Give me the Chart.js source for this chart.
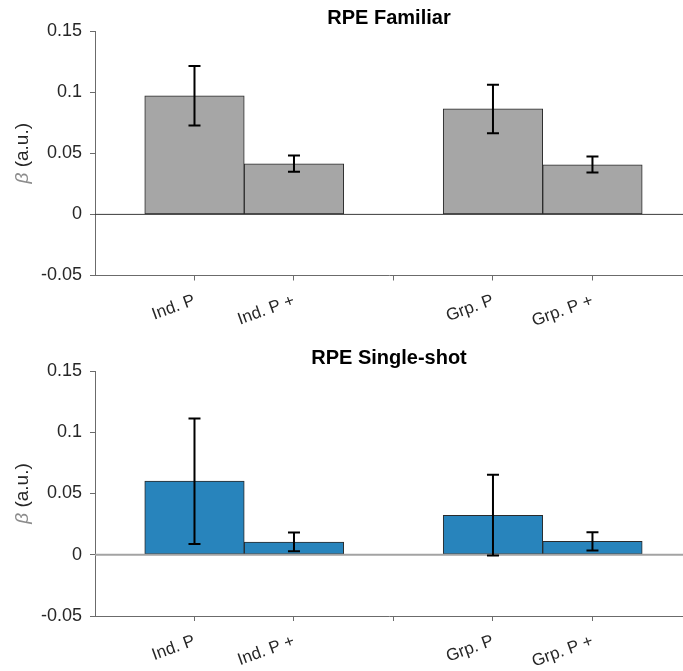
<!DOCTYPE html>
<html>
<head>
<meta charset="utf-8">
<script src="https://cdn.jsdelivr.net/npm/chart.js@4.4.1/dist/chart.umd.min.js"></script>
<style>
  body { margin: 0; background: #fff; }
  #wrap { position: relative; width: 683px; height: 671px; overflow: hidden; }
  canvas { position: absolute; left: 0; }
</style>
</head>
<body>
<div id="wrap">
  <canvas id="topChart" width="683" height="340" style="top:0px"></canvas>
  <canvas id="bottomChart" width="683" height="331" style="top:340px"></canvas>
</div>
<script>
// data
const categories = ['Ind. P', 'Ind. P +', 'Grp. P', 'Grp. P +'];
const xPositions = [1, 2, 4, 5];

const familiarBeta = [0.0969, 0.0413, 0.0863, 0.0405];
const familiarLow = [0.0726, 0.0348, 0.0664, 0.0343];
const familiarHigh = [0.1214, 0.0481, 0.1061, 0.0473];

const singleBeta = [0.0601, 0.0103, 0.0321, 0.0109];
const singleLow = [0.0087, 0.0029, -0.0006, 0.0035];
const singleHigh = [0.1113, 0.0182, 0.0653, 0.0184];

const yTicks = [-0.05, 0, 0.05, 0.1, 0.15];
const yTickLabels = ['-0.05', '0', '0.05', '0.1', '0.15'];
const xTicks = [1, 2, 3, 4, 5];
const xTickLabels = ['Ind. P', 'Ind. P +', '', 'Grp. P', 'Grp. P +'];

const FONT = '"Liberation Sans", Arial, sans-serif';
const AXIS_COLOR = '#6b6b6b';
const TEXT_COLOR = '#262626';

// zero line, error bars and y label
const extrasPlugin = {
  id: 'extras',
  afterDatasetsDraw(chart, args, opts) {
    const ctx = chart.ctx;
    const xs = chart.scales.x;
    const ys = chart.scales.y;
    const area = chart.chartArea;

    // baseline at 0
    ctx.save();
    ctx.strokeStyle = opts.zeroColor;
    ctx.lineWidth = opts.zeroWidth;
    ctx.beginPath();
    const y0 = ys.getPixelForValue(0);
    ctx.moveTo(area.left, y0);
    ctx.lineTo(area.right, y0);
    ctx.stroke();

    // error bars
    ctx.strokeStyle = '#000';
    ctx.lineWidth = 2;
    for (let i = 0; i < xPositions.length; i++) {
      const px = xs.getPixelForValue(xPositions[i]);
      const lo = ys.getPixelForValue(opts.low[i]);
      const hi = ys.getPixelForValue(opts.high[i]);
      ctx.beginPath();
      ctx.moveTo(px, lo); ctx.lineTo(px, hi);
      ctx.moveTo(px - 6, lo); ctx.lineTo(px + 6, lo);
      ctx.moveTo(px - 6, hi); ctx.lineTo(px + 6, hi);
      ctx.stroke();
    }
    ctx.restore();
  },
  afterDraw(chart) {
    // y label: "β (a.u.)" with a grey italic beta
    const ctx = chart.ctx;
    const area = chart.chartArea;
    ctx.save();
    ctx.translate(23, (area.top + area.bottom) / 2);
    ctx.rotate(-Math.PI / 2);
    ctx.textBaseline = 'middle';
    ctx.textAlign = 'left';
    const f1 = 'italic 19px ' + FONT;
    const f2 = '19px ' + FONT;
    ctx.font = f1;
    const w1 = ctx.measureText('β').width;
    ctx.font = f2;
    const w2 = ctx.measureText(' (a.u.)').width;
    let x = -(w1 + w2) / 2;
    ctx.font = f1;
    ctx.fillStyle = '#8c8c8c';
    ctx.fillText('β', x, 0);
    ctx.font = f2;
    ctx.fillStyle = TEXT_COLOR;
    ctx.fillText(' (a.u.)', x + w1, 0);
    ctx.restore();
  }
};

function makeChart(id, title, beta, low, high, barColor, zeroColor, zeroWidth, xHeight) {
  const ctx = document.getElementById(id).getContext('2d');
  return new Chart(ctx, {
    type: 'bar',
    data: {
      datasets: [{
        label: title,
        data: xPositions.map((x, i) => ({ x: x, y: beta[i] })),
        backgroundColor: barColor,
        borderColor: '#2b2b2b',
        borderWidth: 1,
        borderSkipped: false,
        barPercentage: 1,
        categoryPercentage: 1
      }]
    },
    options: {
      responsive: false,
      animation: false,
      devicePixelRatio: 1,
      layout: { padding: 0 },
      plugins: {
        legend: { display: false },
        tooltip: { enabled: false },
        title: {
          display: true,
          fullSize: false,
          text: title,
          color: '#000',
          font: { family: FONT, size: 20, weight: 'bold' },
          padding: { top: 6, bottom: 1 }
        },
        extras: { low: low, high: high, zeroColor: zeroColor, zeroWidth: zeroWidth }
      },
      scales: {
        x: {
          type: 'linear',
          offset: false,
          min: 0,
          max: 5.91, // axis is cut at the right edge of the picture
          afterBuildTicks(scale) {
            scale.ticks = xTicks.map(v => ({ value: v }));
          },
          afterFit(scale) { scale.height = xHeight; },
          grid: { display: true, offset: false, drawOnChartArea: false, drawTicks: true, tickLength: 5, color: AXIS_COLOR },
          border: { display: true, color: AXIS_COLOR, width: 1 },
          ticks: {
            autoSkip: false,
            minRotation: 20,
            maxRotation: 20,
            padding: 10,
            color: TEXT_COLOR,
            font: { family: FONT, size: 17 },
            callback: (v) => {
              const k = xTicks.indexOf(v);
              return k >= 0 ? xTickLabels[k] : '';
            }
          }
        },
        y: {
          min: -0.05,
          max: 0.15,
          afterBuildTicks(scale) {
            scale.ticks = yTicks.map(v => ({ value: v }));
          },
          afterFit(scale) { scale.width = 95; },
          grid: { display: true, drawOnChartArea: false, drawTicks: true, tickLength: 5, color: AXIS_COLOR },
          border: { display: true, color: AXIS_COLOR, width: 1 },
          ticks: {
            padding: 8,
            color: TEXT_COLOR,
            font: { family: FONT, size: 18 },
            callback: (v) => {
              let k = 0;
              for (let j = 0; j < yTicks.length; j++) {
                if (Math.abs(yTicks[j] - v) < 1e-9) k = j;
              }
              return yTickLabels[k];
            }
          }
        }
      }
    },
    plugins: [extrasPlugin]
  });
}

makeChart('topChart', 'RPE Familiar', familiarBeta, familiarLow, familiarHigh,
  '#a6a6a6', '#3a3a3a', 1, 64.5);
makeChart('bottomChart', 'RPE Single-shot', singleBeta, singleLow, singleHigh,
  '#2884bc', '#a3a3a3', 2, 55);
</script>
</body>
</html>
